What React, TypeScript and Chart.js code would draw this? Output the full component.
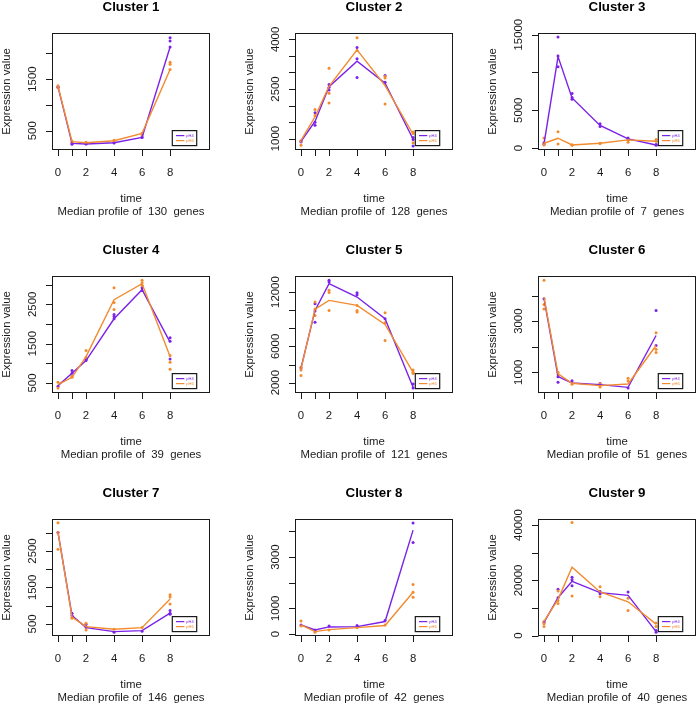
import React, { useEffect, useRef } from 'react';
import { Chart, registerables } from 'chart.js';

Chart.register(...registerables);

// ---------- data ----------
const TIMES = [0, 1, 2, 4, 6, 8];
const X_TICKS = [0, 1, 2, 4, 6, 8];
const X_LABELS = [0, 2, 4, 6, 8];
const SERIES_NAMES = ['pH4', 'pH6'];
const GENE_COUNTS = [130, 128, 7, 39, 121, 51, 146, 42, 40];

// Cluster 1
const C1_A_MEDIAN = [1349, 255, 243, 268, 371, 2122];
const C1_B_MEDIAN = [1362, 288, 268, 307, 449, 1684];
const C1_A_REPS = [[1350, 1340], [236, 260], [243, 250], [262, 270], [371, 380], [2302, 2237, 2122]];
const C1_B_REPS = [[1370, 1330], [275, 300], [268, 275], [307, 315], [449, 417], [1826, 1787, 1684]];
const C1_Y_RANGE = [127, 2392];
const C1_Y_TICKS = [500, 1000, 1500, 2000];
const C1_Y_LABELS = [500, 1500];

// Cluster 2
const C2_A_MEDIAN = [919, 1517, 2571, 3340, 2672, 980];
const C2_B_MEDIAN = [949, 1659, 2581, 3685, 2601, 1132];
const C2_A_REPS = [[930, 900], [1780, 1497, 1405], [2632, 2550, 2469], [3756, 3411, 2844], [2905, 2700], [1030, 970, 777]];
const C2_B_REPS = [[919, 797], [1882, 1700], [3128, 2368, 2074], [4051, 3665], [2834, 2875, 2044], [1203, 1152, 878]];
const C2_Y_RANGE = [655, 4193];
const C2_Y_TICKS = [1000, 1500, 2000, 2500, 3000, 3500, 4000];
const C2_Y_LABELS = [1000, 2500, 4000];

// Cluster 3
const C3_A_MEDIAN = [534, 12104, 6630, 2981, 1200, 400];
const C3_B_MEDIAN = [623, 1290, 400, 623, 1068, 890];
const C3_A_REPS = [[700, 450], [14685, 12193, 10769], [7209, 6675, 6452], [3204, 2848], [1335, 1100], [445, 350]];
const C3_B_REPS = [[1335, 623, 400], [2136, 534], [350, 420], [623, 600], [1068, 756], [1112, 890]];
const C3_Y_RANGE = [-267, 15222];
const C3_Y_TICKS = [0, 5000, 10000, 15000];
const C3_Y_LABELS = [0, 5000, 15000];

// Cluster 4
const C4_A_MEDIAN = [432, 747, 1070, 2132, 2871, 1537];
const C4_B_MEDIAN = [457, 644, 1171, 2616, 3025, 1171];
const C4_A_REPS = [[415], [815, 747], [1070, 1100], [2243, 2190, 2132], [2922, 2854], [1647, 1562, 1112]];
const C4_B_REPS = [[517, 372], [644, 670], [1324, 1150], [2922, 2548, 2370], [3110, 3050, 2982], [1197, 1027, 849]];
const C4_Y_RANGE = [245, 3220];
const C4_Y_TICKS = [500, 1000, 1500, 2000, 2500, 3000];
const C4_Y_LABELS = [500, 1500, 2500];

// Cluster 5
const C5_A_MEDIAN = [3624, 9970, 12922, 11446, 9048, 1483];
const C5_B_MEDIAN = [3513, 10118, 11077, 10523, 8420, 3144];
const C5_A_REPS = [[3624], [8679, 10708, 9900], [13291, 13100], [11926, 11700], [9048], [1410, 1850]];
const C5_B_REPS = [[3697, 3402, 2775], [10893, 10118, 9417], [12185, 11950, 9970], [10523, 9970, 9785], [9712, 6649, 8600], [3402, 3144, 2996]];
const C5_Y_RANGE = [856, 13771];
const C5_Y_TICKS = [2000, 4000, 6000, 8000, 10000, 12000];
const C5_Y_LABELS = [2000, 6000, 12000];

// Cluster 6
const C6_A_MEDIAN = [3876, 830, 582, 517, 412, 2438];
const C6_B_MEDIAN = [3941, 935, 569, 477, 543, 2046];
const C6_A_REPS = [[3876], [608, 830], [673], [560], [386], [3418, 2046]];
const C6_B_REPS = [[4595, 3654, 3470], [1000, 900], [530], [556, 425], [765, 660], [2543, 1902, 1771]];
const C6_Y_RANGE = [190, 4765];
const C6_Y_TICKS = [1000, 2000, 3000, 4000];
const C6_Y_LABELS = [1000, 3000];

// Cluster 7
const C7_A_MEDIAN = [3009, 730, 398, 288, 315, 795];
const C7_B_MEDIAN = [3009, 684, 426, 352, 398, 1183];
const C7_A_REPS = [[3009], [795, 730], [490, 420], [270], [298], [869, 795, 767]];
const C7_B_REPS = [[3277, 3009, 2548], [684, 655], [518, 398, 334], [352], [398], [1303, 1239, 1045]];
const C7_Y_RANGE = [168, 3378];
const C7_Y_TICKS = [500, 1000, 1500, 2000, 2500, 3000];
const C7_Y_LABELS = [500, 1500, 2500];

// Cluster 8
const C8_A_MEDIAN = [354, 157, 275, 288, 485, 4051];
const C8_B_MEDIAN = [354, 92, 170, 249, 328, 1626];
const C8_A_REPS = [[354], [157], [315], [328], [524], [4326, 3566]];
const C8_B_REPS = [[511, 315], [66], [157], [249], [354], [1927, 1626, 1429]];
const C8_Y_RANGE = [-79, 4485];
const C8_Y_TICKS = [0, 1000, 2000, 3000, 4000];
const C8_Y_LABELS = [0, 1000, 3000];

// Cluster 9
const C9_A_MEDIAN = [4785, 13742, 19632, 15583, 14601, 1472];
const C9_B_MEDIAN = [5153, 13129, 24785, 15829, 12270, 4172];
const C9_A_REPS = [[4785], [16810, 13742], [21104, 20200, 18037], [15950, 15200], [15829], [1227, 1900]];
const C9_B_REPS = [[5153, 4300, 3313], [16196, 12700, 11657], [40982, 14356], [17669, 14110], [13497, 9080], [4540, 3313]];
const C9_Y_RANGE = [-123, 42209];
const C9_Y_TICKS = [0, 10000, 20000, 30000, 40000];
const C9_Y_LABELS = [0, 20000, 40000];

const COLOR_A = '#7b22e8';
const COLOR_B = '#f28b2e';
const FONT = '"Liberation Sans", Arial, Helvetica, sans-serif';

type ClusterDef = {
  aMed: number[]; bMed: number[]; aReps: number[][]; bReps: number[][];
  yRange: number[]; yTicks: number[]; yLabels: number[];
};

const CLUSTERS: ClusterDef[] = [
  { aMed: C1_A_MEDIAN, bMed: C1_B_MEDIAN, aReps: C1_A_REPS, bReps: C1_B_REPS, yRange: C1_Y_RANGE, yTicks: C1_Y_TICKS, yLabels: C1_Y_LABELS },
  { aMed: C2_A_MEDIAN, bMed: C2_B_MEDIAN, aReps: C2_A_REPS, bReps: C2_B_REPS, yRange: C2_Y_RANGE, yTicks: C2_Y_TICKS, yLabels: C2_Y_LABELS },
  { aMed: C3_A_MEDIAN, bMed: C3_B_MEDIAN, aReps: C3_A_REPS, bReps: C3_B_REPS, yRange: C3_Y_RANGE, yTicks: C3_Y_TICKS, yLabels: C3_Y_LABELS },
  { aMed: C4_A_MEDIAN, bMed: C4_B_MEDIAN, aReps: C4_A_REPS, bReps: C4_B_REPS, yRange: C4_Y_RANGE, yTicks: C4_Y_TICKS, yLabels: C4_Y_LABELS },
  { aMed: C5_A_MEDIAN, bMed: C5_B_MEDIAN, aReps: C5_A_REPS, bReps: C5_B_REPS, yRange: C5_Y_RANGE, yTicks: C5_Y_TICKS, yLabels: C5_Y_LABELS },
  { aMed: C6_A_MEDIAN, bMed: C6_B_MEDIAN, aReps: C6_A_REPS, bReps: C6_B_REPS, yRange: C6_Y_RANGE, yTicks: C6_Y_TICKS, yLabels: C6_Y_LABELS },
  { aMed: C7_A_MEDIAN, bMed: C7_B_MEDIAN, aReps: C7_A_REPS, bReps: C7_B_REPS, yRange: C7_Y_RANGE, yTicks: C7_Y_TICKS, yLabels: C7_Y_LABELS },
  { aMed: C8_A_MEDIAN, bMed: C8_B_MEDIAN, aReps: C8_A_REPS, bReps: C8_B_REPS, yRange: C8_Y_RANGE, yTicks: C8_Y_TICKS, yLabels: C8_Y_LABELS },
  { aMed: C9_A_MEDIAN, bMed: C9_B_MEDIAN, aReps: C9_A_REPS, bReps: C9_B_REPS, yRange: C9_Y_RANGE, yTicks: C9_Y_TICKS, yLabels: C9_Y_LABELS },
];

const PANEL = 243;

const repsToPoints = (reps: number[][]) =>
  reps.flatMap((vals, i) => vals.map((v) => ({ x: TIMES[i], y: v })));
const medToPoints = (med: number[]) => med.map((v, i) => ({ x: TIMES[i], y: v }));

const rStyle = {
  id: 'rStyle',
  afterDraw(chart: any, _args: any, opts: any) {
    const { ctx, chartArea: a, scales } = chart;
    const x = scales.x;
    const y = scales.y;
    const L = Math.round(a.left) + 0.5;
    const R = Math.round(a.right) - 0.5;
    const T = Math.round(a.top) + 0.5;
    const B = Math.round(a.bottom) - 0.5;
    const cx = (a.left + a.right) / 2;
    ctx.save();
    ctx.strokeStyle = '#1a1a1a';
    ctx.lineWidth = 1;
    ctx.strokeRect(L, T, R - L, B - T);

    // x axis
    ctx.beginPath();
    ctx.moveTo(x.getPixelForValue(X_TICKS[0]), B);
    ctx.lineTo(x.getPixelForValue(X_TICKS[X_TICKS.length - 1]), B);
    X_TICKS.forEach((t) => {
      const px = Math.round(x.getPixelForValue(t)) + 0.5;
      ctx.moveTo(px, B);
      ctx.lineTo(px, B + 6.5);
    });
    // y axis ticks
    opts.yTicks.forEach((v: number) => {
      const py = Math.round(y.getPixelForValue(v)) + 0.5;
      ctx.moveTo(L, py);
      ctx.lineTo(L - 6.5, py);
    });
    ctx.stroke();

    ctx.fillStyle = '#1a1a1a';
    ctx.font = `11.4px ${FONT}`;
    ctx.textAlign = 'center';
    ctx.textBaseline = 'alphabetic';
    X_LABELS.forEach((t) => {
      ctx.fillText(String(t), x.getPixelForValue(t), a.bottom + 26);
    });
    opts.yLabels.forEach((v: number) => {
      ctx.save();
      ctx.translate(a.left - 16, y.getPixelForValue(v));
      ctx.rotate(-Math.PI / 2);
      ctx.fillText(String(v), 0, 0);
      ctx.restore();
    });
    // axis titles
    ctx.fillText('time', cx, a.bottom + 52.3);
    ctx.fillText(`Median profile of  ${opts.genes}  genes`, cx, a.bottom + 65);
    ctx.save();
    ctx.translate(9.6, (a.top + a.bottom) / 2);
    ctx.rotate(-Math.PI / 2);
    ctx.fillText('Expression value', 0, 0);
    ctx.restore();
    // main title
    ctx.font = `bold 13.3px ${FONT}`;
    ctx.fillStyle = '#000';
    ctx.fillText(opts.title, cx, 10.7);

    // legend
    const lx = a.left + 120.3;
    const ly = a.top + 97.6;
    ctx.fillStyle = '#fff';
    ctx.fillRect(lx, ly, 24.4, 15);
    ctx.strokeStyle = '#1a1a1a';
    ctx.lineWidth = 1.2;
    ctx.strokeRect(lx, ly, 24.4, 15);
    const entries = [
      { name: SERIES_NAMES[0], color: COLOR_A, dy: 5 },
      { name: SERIES_NAMES[1], color: COLOR_B, dy: 10 },
    ];
    ctx.font = `4px ${FONT}`;
    ctx.textAlign = 'left';
    ctx.textBaseline = 'middle';
    entries.forEach((e) => {
      ctx.strokeStyle = e.color;
      ctx.lineWidth = 1.2;
      ctx.beginPath();
      ctx.moveTo(lx + 3.7, ly + e.dy);
      ctx.lineTo(lx + 12, ly + e.dy);
      ctx.stroke();
      ctx.fillStyle = e.color;
      ctx.fillText(e.name, lx + 14, ly + e.dy);
    });
    ctx.restore();
  },
};

function Panel({ index }: { index: number }) {
  const ref = useRef<HTMLCanvasElement | null>(null);
  useEffect(() => {
    const c = CLUSTERS[index];
    const chart = new Chart(ref.current as HTMLCanvasElement, {
      type: 'line',
      data: {
        datasets: [
          {
            type: 'line',
            label: SERIES_NAMES[1] + ' median',
            data: medToPoints(c.bMed),
            borderColor: COLOR_B,
            backgroundColor: COLOR_B,
            borderWidth: 1.4,
            pointRadius: 0,
            tension: 0,
            fill: false,
          },
          {
            type: 'line',
            label: SERIES_NAMES[0] + ' median',
            data: medToPoints(c.aMed),
            borderColor: COLOR_A,
            backgroundColor: COLOR_A,
            borderWidth: 1.4,
            pointRadius: 0,
            tension: 0,
            fill: false,
          },
          {
            type: 'scatter',
            label: SERIES_NAMES[1],
            data: repsToPoints(c.bReps),
            backgroundColor: COLOR_B,
            borderWidth: 0,
            pointRadius: 1.5,
          },
          {
            type: 'scatter',
            label: SERIES_NAMES[0],
            data: repsToPoints(c.aReps),
            backgroundColor: COLOR_A,
            borderWidth: 0,
            pointRadius: 1.5,
          },
        ],
      } as any,
      options: {
        responsive: false,
        animation: false,
        devicePixelRatio: 1,
        events: [],
        layout: { padding: { left: 52, right: 33, top: 33, bottom: 93 } },
        scales: {
          x: { type: 'linear', min: -0.43, max: 10.85, display: false },
          y: { type: 'linear', min: c.yRange[0], max: c.yRange[1], display: false },
        },
        plugins: {
          legend: { display: false },
          tooltip: { enabled: false },
          rStyle: {
            title: `Cluster ${index + 1}`,
            genes: GENE_COUNTS[index],
            yTicks: c.yTicks,
            yLabels: c.yLabels,
          },
        } as any,
      },
      plugins: [rStyle],
    });
    return () => chart.destroy();
  }, [index]);
  const row = Math.floor(index / 3);
  const col = index % 3;
  return (
    <canvas
      ref={ref}
      width={PANEL}
      height={PANEL}
      style={{
        position: 'absolute',
        left: col * PANEL,
        top: row * PANEL,
        width: PANEL,
        height: PANEL,
      }}
    />
  );
}

export default function App() {
  return (
    <div
      style={{
        position: 'fixed',
        left: 0,
        top: 0,
        width: 696,
        height: 704,
        overflow: 'hidden',
        background: '#fff',
      }}
    >
      {CLUSTERS.map((_, i) => (
        <Panel key={i} index={i} />
      ))}
    </div>
  );
}
